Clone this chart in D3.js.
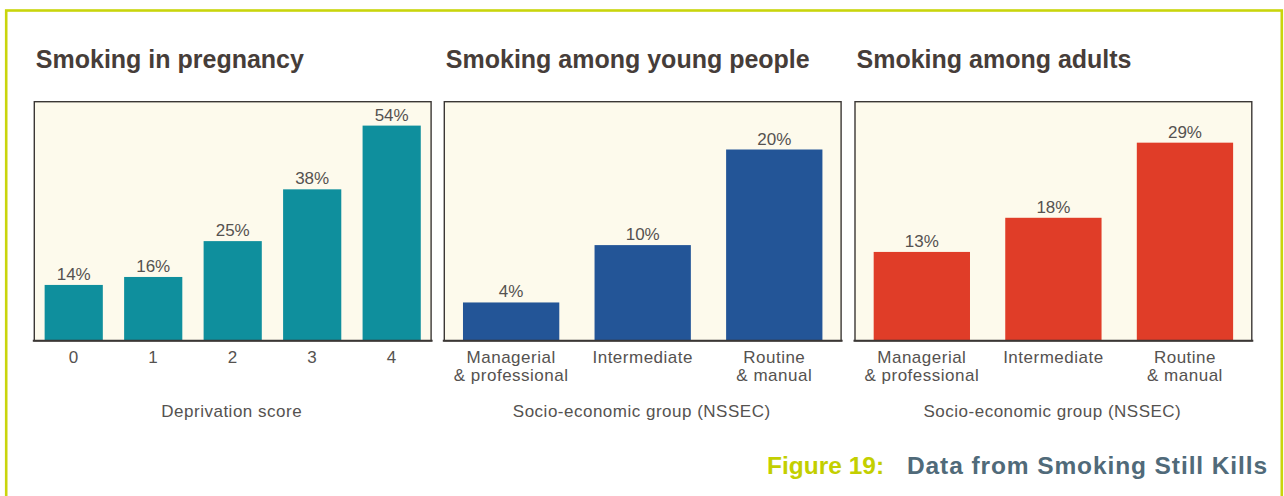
<!DOCTYPE html>
<html>
<head>
<meta charset="utf-8">
<script src="https://cdn.jsdelivr.net/npm/d3@7"></script>
<style>
  html, body { margin: 0; padding: 0; background: #ffffff; }
  svg { display: block; font-family: "Liberation Sans", Arial, Helvetica, sans-serif; }
</style>
</head>
<body>
<svg id="chart" width="1284" height="496"></svg>
<script>
// ---- Data ----
const pregnancyCategories = ["0", "1", "2", "3", "4"];
const pregnancyValues = [14, 16, 25, 38, 54];

const youngCategories = ["Managerial\n& professional", "Intermediate", "Routine\n& manual"];
const youngValues = [4, 10, 20];

const adultCategories = ["Managerial\n& professional", "Intermediate", "Routine\n& manual"];
const adultValues = [13, 18, 29];

const panelTitles = ["Smoking in pregnancy", "Smoking among young people", "Smoking among adults"];
const axisTitles = ["Deprivation score", "Socio-economic group (NSSEC)", "Socio-economic group (NSSEC)"];
const yMaxima = [60, 25, 35];
const captionLabel = "Figure 19:";
const captionText = "Data from Smoking Still Kills";

// ---- Layout / style ----
const panelLefts = [34.3, 444.3, 855];
const panelWidth = 396.8;
const plotTop = 101.7, plotBottom = 340.7;
const barColors = ["#0f8f9d", "#235597", "#e03d28"];
const outerPads = [0.13, 0.142, 0.142];

const svg = d3.select("#chart");

// outer yellow-green border
svg.append("rect")
  .attr("x", 6.2).attr("y", 10.5)
  .attr("width", 1275.6).attr("height", 520)
  .attr("fill", "none")
  .attr("stroke", "#c9d50c")
  .attr("stroke-width", 2.6);

const panels = [
  { cats: pregnancyCategories, vals: pregnancyValues },
  { cats: youngCategories, vals: youngValues },
  { cats: adultCategories, vals: adultValues }
];

panels.forEach((p, i) => {
  const g = svg.append("g").attr("transform", `translate(${panelLefts[i]},0)`);

  const x = d3.scaleBand()
    .domain(p.cats)
    .range([0, panelWidth])
    .paddingInner(0.268)
    .paddingOuter(outerPads[i]);

  const y = d3.scaleLinear()
    .domain([0, yMaxima[i]])
    .range([plotBottom, plotTop]);

  // title
  g.append("text")
    .attr("x", 1.5)
    .attr("y", 68)
    .attr("font-size", 25)
    .attr("font-weight", "bold")
    .attr("fill", "#463d39")
    .text(panelTitles[i]);

  // plot background & frame
  g.append("rect")
    .attr("x", 0).attr("y", plotTop)
    .attr("width", panelWidth).attr("height", plotBottom - plotTop)
    .attr("fill", "#fdfaec")
    .attr("stroke", "#3b3735")
    .attr("stroke-width", 1.4);

  // bars
  g.selectAll("rect.bar")
    .data(p.vals)
    .join("rect")
    .attr("class", "bar")
    .attr("x", (d, j) => x(p.cats[j]))
    .attr("y", d => y(d))
    .attr("width", x.bandwidth())
    .attr("height", d => y(0) - y(d))
    .attr("fill", barColors[i]);

  // value labels
  g.selectAll("text.val")
    .data(p.vals)
    .join("text")
    .attr("class", "val")
    .attr("x", (d, j) => x(p.cats[j]) + x.bandwidth() / 2)
    .attr("y", d => y(d) - 5)
    .attr("text-anchor", "middle")
    .attr("font-size", 17)
    .attr("fill", "#555250")
    .text(d => d + "%");

  // x axis
  const axis = g.append("g")
    .attr("transform", `translate(0,${plotBottom})`)
    .call(d3.axisBottom(x).tickSize(0).tickPadding(0));
  axis.select(".domain")
    .attr("stroke", "#3b3735")
    .attr("stroke-width", 2)
    .attr("d", `M-1.5,0H${panelWidth + 1.5}`);
  axis.selectAll(".tick text")
    .attr("font-size", 17)
    .attr("letter-spacing", 0.5)
    .attr("fill", "#555250")
    .attr("font-family", "'Liberation Sans', Arial, sans-serif")
    .attr("dy", null)
    .attr("y", 0)
    .each(function(d) {
      const t = d3.select(this);
      t.text(null);
      d.split("\n").forEach((line, k) => {
        t.append("tspan")
          .attr("x", 0)
          .attr("y", 22.5 + k * 18)
          .text(line);
      });
    });

  // axis title
  g.append("text")
    .attr("x", panelWidth / 2 - 1)
    .attr("y", 417)
    .attr("text-anchor", "middle")
    .attr("font-size", 17)
    .attr("letter-spacing", 0.5)
    .attr("fill", "#555250")
    .text(axisTitles[i]);
});

// caption
svg.append("text")
  .attr("x", 767)
  .attr("y", 473.5)
  .attr("font-size", 24.5)
  .attr("font-weight", "bold")
  .attr("fill", "#c3cf00")
  .text(captionLabel);
svg.append("text")
  .attr("x", 1268)
  .attr("y", 473.5)
  .attr("text-anchor", "end")
  .attr("font-size", 24.5)
  .attr("font-weight", "bold")
  .attr("letter-spacing", 0.9)
  .attr("fill", "#506a79")
  .text(captionText);
</script>
</body>
</html>
